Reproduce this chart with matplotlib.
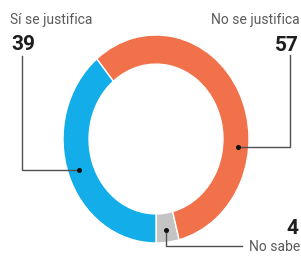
import numpy as np
import matplotlib
matplotlib.use("Agg")
import matplotlib.pyplot as plt

# ---- data ----
categories = ["No sabe", "No se justifica", "Sí se justifica"]
values = [4, 57, 39]
colors = ["#c4c4c4", "#f0714a", "#13aee9"]

W, H = 301, 257
fig = plt.figure(figsize=(W / 100, H / 100), dpi=100)
fig.patch.set_facecolor("white")

# pie axes (stretched ellipse as in reference)
px0, px1, py0, py1 = 63, 249, 35, 243
pax = fig.add_axes([px0 / W, 1 - py1 / H, (px1 - px0) / W, (py1 - py0) / H])
ring = 0.28
wedges, _ = pax.pie(values, colors=colors, startangle=-90, counterclock=True,
                    radius=1.0,
                    wedgeprops=dict(width=ring, edgecolor="white", linewidth=1.0))
pax.set_aspect("auto")
pax.set_xlim(-1, 1)
pax.set_ylim(-1, 1)
pax.axis("off")

# overlay axes in pixel coords
ax = fig.add_axes([0, 0, 1, 1], zorder=5)
ax.set_xlim(0, W)
ax.set_ylim(H, 0)
ax.axis("off")
ax.patch.set_alpha(0)

def ring_point(angle_deg):
    r = 1 - ring / 2 + 0.02
    p = (r * np.cos(np.radians(angle_deg)), r * np.sin(np.radians(angle_deg)))
    d = pax.transData.transform(p)
    return ax.transData.inverted().transform(d)

mid = {w_label: (w.theta1 + w.theta2) / 2 for w_label, w in zip(categories, wedges)}

label_font = ["Roboto", "DejaVu Sans"]
num_font = ["Roboto", "DejaVu Sans"]
lc = "#505050"
tc = "#5a5a5a"
lsize = 10.0
nsize = 15

# Sí se justifica (left)
ax.text(10, 24, categories[2], fontsize=lsize, color=tc, family=label_font, va="baseline", ha="left")
ax.text(11, 50, str(values[2]), fontsize=nsize, weight="bold", color="#1e1e1e", family=num_font, va="baseline", ha="left")
bx, by = ring_point(mid["Sí se justifica"])
ax.plot([22, 22, bx], [56, by, by], color=lc, lw=1.0, solid_joinstyle="miter")
ax.plot([bx], [by], "o", color="#111111", ms=2.6)

# No se justifica (right)
ax.text(300, 24, categories[1], fontsize=lsize, color=tc, family=label_font, va="baseline", ha="right")
ax.text(299, 51, str(values[1]), fontsize=nsize, weight="bold", color="#1e1e1e", family=num_font, va="baseline", ha="right")
ox, oy = ring_point(-5)
ax.plot([289.5, 289.5, ox], [55, oy, oy], color=lc, lw=1.0, solid_joinstyle="miter")
ax.plot([ox], [oy], "o", color="#111111", ms=2.6)

# No sabe (bottom)
ax.text(298, 234, str(values[0]), fontsize=nsize, weight="bold", color="#1e1e1e", family=num_font, va="baseline", ha="right")
ax.text(300, 251, categories[0], fontsize=lsize, color=tc, family=label_font, va="baseline", ha="right")
gx, gy = ring_point(mid["No sabe"])
ax.plot([gx, gx, 242], [gy, 246, 246], color=lc, lw=1.0, solid_joinstyle="miter")
ax.plot([gx], [gy], "o", color="#111111", ms=2.6)

fig.savefig("out.png", dpi=100, facecolor="white")
